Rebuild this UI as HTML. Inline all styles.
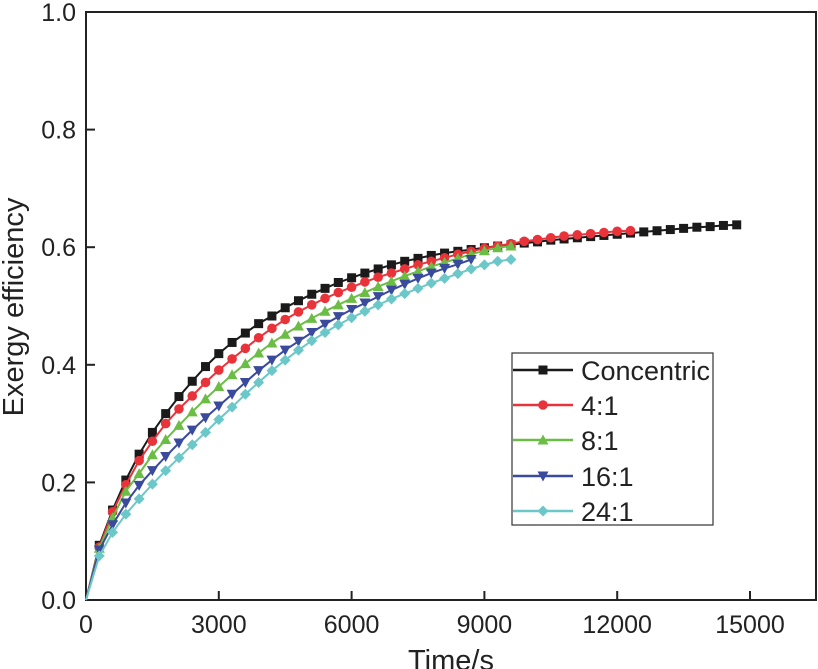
<!DOCTYPE html>
<html><head><meta charset="utf-8"><style>
html,body{margin:0;padding:0;background:#fff}
svg{display:block;font-family:"Liberation Sans",Arial,sans-serif}
</style></head><body>
<svg id="chart" width="818" height="669" viewBox="0 0 818 669" xmlns="http://www.w3.org/2000/svg">
<g id="axes"></g><g id="series"></g><g id="legend"></g>
</svg>
<script>
const xTicks=[0,3000,6000,9000,12000,15000];
const yTicks=[0.0,0.2,0.4,0.6,0.8,1.0];
const seriesNames=["Concentric","4:1","8:1","16:1","24:1"];
const concentric=[0,0.093,0.153,0.204,0.248,0.285,0.317,0.346,0.372,0.397,0.419,0.438,0.454,0.470,0.483,0.497,0.509,0.520,0.530,0.540,0.548,0.556,0.563,0.570,0.576,0.581,0.586,0.590,0.593,0.596,0.599,0.602,0.604,0.607,0.609,0.612,0.614,0.616,0.618,0.620,0.622,0.624,0.626,0.628,0.630,0.632,0.634,0.635,0.637,0.638];
const r4=[0,0.090,0.150,0.196,0.237,0.270,0.300,0.325,0.347,0.370,0.391,0.410,0.428,0.446,0.462,0.477,0.490,0.502,0.513,0.523,0.532,0.541,0.549,0.556,0.563,0.570,0.576,0.582,0.588,0.593,0.598,0.602,0.606,0.610,0.613,0.616,0.619,0.621,0.623,0.625,0.627,0.628];
const r8=[0,0.088,0.140,0.185,0.215,0.247,0.273,0.297,0.320,0.342,0.363,0.383,0.402,0.420,0.437,0.452,0.466,0.479,0.491,0.502,0.513,0.523,0.533,0.542,0.551,0.559,0.567,0.574,0.581,0.588,0.594,0.599,0.602];
const r16=[0,0.085,0.128,0.165,0.195,0.220,0.244,0.267,0.289,0.310,0.330,0.350,0.370,0.390,0.408,0.425,0.440,0.455,0.469,0.482,0.494,0.505,0.516,0.527,0.537,0.547,0.556,0.564,0.571,0.579];
const r24=[0,0.075,0.115,0.146,0.172,0.197,0.220,0.242,0.264,0.285,0.307,0.328,0.350,0.370,0.390,0.408,0.425,0.441,0.455,0.468,0.480,0.491,0.502,0.512,0.521,0.530,0.539,0.547,0.555,0.563,0.570,0.576,0.579];
const timeStep=300;
const allSeries=[concentric,r4,r8,r16,r24];
const colors=["#1a1a1a","#e8333a","#6cbd45","#3a4a9c","#6cc7c9"];
const markers=["square","circle","up","down","diamond"];

const L=86,R=816,T=12,B=600;
const xs=v=>L+v/15000*(750-L);
const ys=v=>B-v*(B-T);
const NS="http://www.w3.org/2000/svg";
function mk(tag,attrs,parent){const e=document.createElementNS(NS,tag);for(const k in attrs)e.setAttribute(k,attrs[k]);parent.appendChild(e);return e;}
const axes=document.getElementById('axes');
const frame=mk('rect',{x:L,y:T,width:R-L,height:B-T,fill:'none',stroke:'#222','stroke-width':2},axes);


xTicks.forEach(t=>{
  const x=xs(t);
  const tk=mk('line',{x1:x,x2:x,y1:B,y2:B-9,stroke:'#222','stroke-width':2},axes);
  
  
  const lb=mk('text',{x:x,y:B+33,'text-anchor':'middle','font-size':25,fill:'#222'},axes);
  lb.textContent=String(t);
  
  
});
yTicks.forEach(t=>{
  const y=ys(t);
  const tk=mk('line',{x1:L,x2:L+9,y1:y,y2:y,stroke:'#222','stroke-width':2},axes);
  
  
  const lb=mk('text',{x:76,y:y+9,'text-anchor':'end','font-size':25,fill:'#222'},axes);
  lb.textContent=t.toFixed(1);
  
  
});
const xt=mk('text',{x:451,y:670,'text-anchor':'middle','font-size':29,fill:'#222'},axes);
xt.textContent='Time/s';


const yt=mk('text',{x:0,y:0,'text-anchor':'middle','font-size':29,fill:'#222',transform:'translate(23,307) rotate(-90)'},axes);
yt.textContent='Exergy efficiency';



function marker(kind,x,y,c,parent){
  const s=4.5;let e;
  if(kind==='square')e=mk('rect',{x:x-s,y:y-s,width:2*s,height:2*s,fill:c},parent);
  else if(kind==='circle')e=mk('circle',{cx:x,cy:y,r:s+0.3,fill:c},parent);
  else if(kind==='up')e=mk('polygon',{points:`${x},${y-s-1} ${x-s-1},${y+s} ${x+s+1},${y+s}`,fill:c},parent);
  else if(kind==='down')e=mk('polygon',{points:`${x},${y+s+1} ${x-s-1},${y-s} ${x+s+1},${y-s}`,fill:c},parent);
  else e=mk('polygon',{points:`${x},${y-s-1} ${x+s+1},${y} ${x},${y+s+1} ${x-s-1},${y}`,fill:c},parent);
  return e;
}
const sg=document.getElementById('series');
allSeries.forEach((arr,i)=>{
  const g=mk('g',{},sg);
  
  
  const pts=arr.map((v,j)=>xs(j*timeStep).toFixed(1)+','+ys(v).toFixed(1)).join(' ');
  const pl=mk('polyline',{points:pts,fill:'none',stroke:colors[i],'stroke-width':2},g);
  
  
  arr.forEach((v,j)=>{if(j===0)return;
    const m=marker(markers[i],xs(j*timeStep),ys(v),colors[i],g);
    
    
  });
});
const lg=document.getElementById('legend');
const lbox=mk('rect',{x:512,y:353,width:201,height:172,fill:'#fff',stroke:'#333','stroke-width':1.2},lg);


const ly=[370,405,440,476,511];
seriesNames.forEach((n,i)=>{
  const g=mk('g',{},lg);
  
  
  mk('line',{x1:513,x2:573,y1:ly[i],y2:ly[i],stroke:colors[i],'stroke-width':2.5},g);
  marker(markers[i],543,ly[i],colors[i],g);
  const t=mk('text',{x:581,y:ly[i]+10,'font-size':27,fill:'#222'},g);
  t.textContent=n;
});
</script>
</body></html>
